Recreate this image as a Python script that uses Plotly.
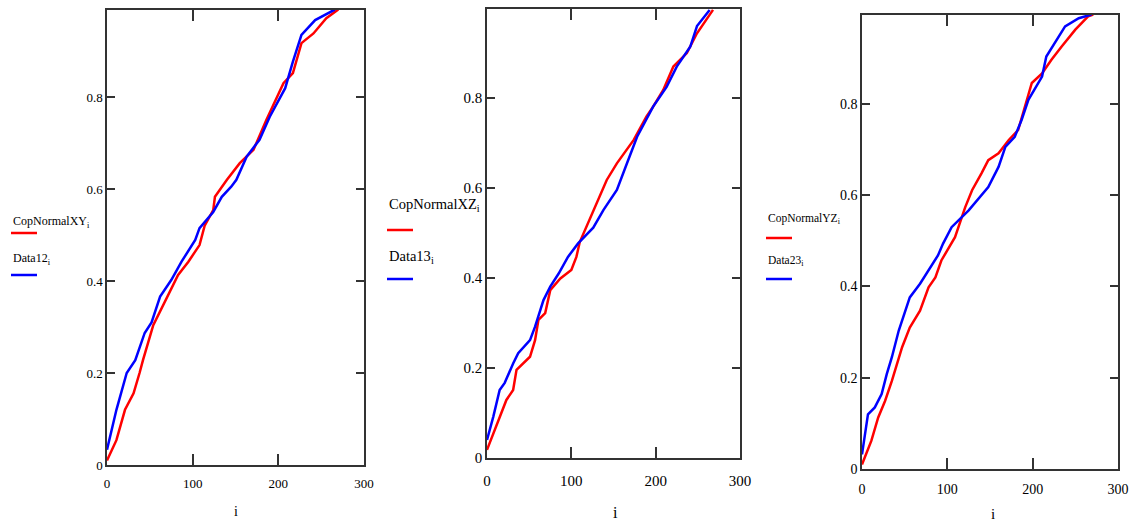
import plotly.graph_objects as go

W, H = 1131, 522

# ---------------- data ----------------
i_cop_xy = [0, 11, 21, 31, 38, 42, 54, 71, 83, 95, 108, 114, 124, 126, 140, 155, 171, 186, 206, 217, 227, 241, 256, 270]
cop_xy = [0.01, 0.054, 0.12, 0.156, 0.2, 0.228, 0.304, 0.366, 0.413, 0.442, 0.478, 0.52, 0.554, 0.583, 0.62, 0.656,
          0.685, 0.75, 0.83, 0.852, 0.917, 0.938, 0.971, 0.99]
i_data12 = [0, 11, 23, 33, 44, 52, 62, 75, 87, 103, 108, 124, 134, 145, 151, 163, 178, 190, 208, 217, 227, 243, 266]
data12 = [0.033, 0.12, 0.2, 0.228, 0.287, 0.31, 0.366, 0.402, 0.442, 0.489, 0.515, 0.55, 0.583, 0.605, 0.62, 0.67,
          0.707, 0.757, 0.819, 0.877, 0.935, 0.967, 0.99]

i_cop_xz = [0, 15, 23, 31, 35, 51, 57, 61, 69, 75, 87, 100, 106, 110, 118, 130, 142, 154, 174, 189, 197, 209, 221,
            237, 249, 268]
cop_xz = [0.018, 0.092, 0.129, 0.151, 0.196, 0.225, 0.262, 0.307, 0.322, 0.373, 0.399, 0.418, 0.447, 0.48, 0.514,
          0.566, 0.618, 0.655, 0.707, 0.759, 0.781, 0.818, 0.87, 0.9, 0.944, 0.996]
i_data13 = [0, 7.5, 15, 21, 31, 37, 51, 57, 67, 75, 85, 96, 108, 126, 138, 154, 166, 178, 197, 213, 225, 241, 249, 264]
data13 = [0.04, 0.092, 0.151, 0.167, 0.21, 0.233, 0.262, 0.292, 0.351, 0.381, 0.41, 0.447, 0.477, 0.512, 0.551,
          0.596, 0.655, 0.714, 0.781, 0.825, 0.87, 0.914, 0.96, 0.996]

i_cop_yz = [0, 11, 19, 27, 35, 47, 56, 68, 78, 86, 93, 109, 121, 129, 140, 148, 160, 172, 183, 191, 199, 211, 222,
            234, 250, 265, 271]
cop_yz = [0.01, 0.062, 0.113, 0.149, 0.193, 0.267, 0.31, 0.347, 0.398, 0.42, 0.457, 0.508, 0.574, 0.611, 0.648,
          0.677, 0.692, 0.721, 0.743, 0.794, 0.846, 0.867, 0.897, 0.926, 0.963, 0.992, 0.996]
i_data23 = [0, 7, 15, 23, 29, 35, 43, 50, 56, 68, 80, 89, 95, 105, 125, 148, 160, 168, 179, 187, 195, 211, 216, 226,
            238, 254, 269]
data23 = [0.032, 0.12, 0.135, 0.164, 0.208, 0.245, 0.303, 0.34, 0.376, 0.406, 0.442, 0.468, 0.494, 0.53, 0.567,
          0.618, 0.662, 0.706, 0.728, 0.765, 0.809, 0.86, 0.904, 0.933, 0.97, 0.988, 0.996]

x_ticks = [0, 100, 200, 300]
y_ticks = [0, 0.2, 0.4, 0.6, 0.8]
y_tick_text = ["0", "0.2", "0.4", "0.6", "0.8"]

legend_red = ["CopNormalXY<sub>i</sub>", "CopNormalXZ<sub>i</sub>", "CopNormalYZ<sub>i</sub>"]
legend_blue = ["Data12<sub>i</sub>", "Data13<sub>i</sub>", "Data23<sub>i</sub>"]
x_title = "i"

# ---------------- layout geometry (pixels) ----------------
panels = [
    dict(left=107, right=364, top=10, bottom=465, ymax=0.989, fs=13, xstand=6,
         leg_x=11, t1=222, l1=233, t2=259, l2=275, leg_fs=12, xt=(236, 511)),
    dict(left=487, right=740, top=9, bottom=458, ymax=0.998, fs=15, xstand=8,
         leg_x=387, t1=205, l1=230, t2=257, l2=279, leg_fs=14.5, xt=(615, 512)),
    dict(left=862, right=1118, top=15, bottom=469, ymax=0.995, fs=14, xstand=6,
         leg_x=766, t1=219, l1=238, t2=261, l2=279, leg_fs=11.5, xt=(993, 514)),
]
series = [
    (i_cop_xy, cop_xy, i_data12, data12),
    (i_cop_xz, cop_xz, i_data13, data13),
    (i_cop_yz, cop_yz, i_data23, data23),
]

FONT = "Liberation Serif, Times New Roman, serif"
AX = "#333333"

fig = go.Figure()
layout = dict(width=W, height=H, autosize=False, margin=dict(l=0, r=0, t=0, b=0, pad=0),
              paper_bgcolor="white", plot_bgcolor="white", showlegend=False,
              annotations=[], shapes=[])

def px(x):
    return x / W

def py(y):
    return 1 - y / H

for k, (p, (xr, yr, xb, yb)) in enumerate(zip(panels, series)):
    n = "" if k == 0 else str(k + 1)
    fig.add_trace(go.Scatter(x=xr, y=yr, mode="lines", line=dict(color="#ff0000", width=2.5),
                             xaxis="x" + n, yaxis="y" + n))
    fig.add_trace(go.Scatter(x=xb, y=yb, mode="lines", line=dict(color="#0000ff", width=2.5),
                             xaxis="x" + n, yaxis="y" + n))
    common = dict(showline=True, linecolor=AX, linewidth=1.5, mirror="ticks", ticks="inside",
                  tickcolor=AX, tickwidth=1.5, showgrid=False, zeroline=False, automargin=False,
                  tickfont=dict(family=FONT, size=p["fs"], color="black"))
    layout["xaxis" + n] = dict(common, domain=[px(p["left"]), px(p["right"])], range=[0, 300],
                               tickvals=x_ticks, ticklen=11, anchor="y" + n, ticklabelstandoff=p["xstand"])
    layout["yaxis" + n] = dict(common, domain=[py(p["bottom"]), py(p["top"])], range=[0, p["ymax"]],
                               tickvals=y_ticks, ticktext=y_tick_text, ticklen=8, anchor="x" + n)
    # legend (text over a short line sample)
    for txt, ty, ly, col in [(legend_red[k], p["t1"], p["l1"], "#ff0000"),
                             (legend_blue[k], p["t2"], p["l2"], "#0000ff")]:
        layout["annotations"].append(dict(text=txt, x=px(p["leg_x"]), y=py(ty), xref="paper", yref="paper",
                                          xanchor="left", yanchor="middle", showarrow=False,
                                          font=dict(family=FONT, size=p["leg_fs"], color="black")))
        layout["shapes"].append(dict(type="line", xref="paper", yref="paper",
                                     x0=px(p["leg_x"]), x1=px(p["leg_x"] + 26), y0=py(ly), y1=py(ly),
                                     line=dict(color=col, width=2.5)))
    layout["annotations"].append(dict(text=x_title, x=px(p["xt"][0]), y=py(p["xt"][1]), xref="paper",
                                      yref="paper", xanchor="center", yanchor="middle", showarrow=False,
                                      font=dict(family=FONT, size=p["fs"] + 1, color="black")))

fig.update_layout(**layout)
fig.write_html("out.html", config={"displayModeBar": False},
               post_script="document.body.style.margin='0';document.body.style.overflow='hidden';")
